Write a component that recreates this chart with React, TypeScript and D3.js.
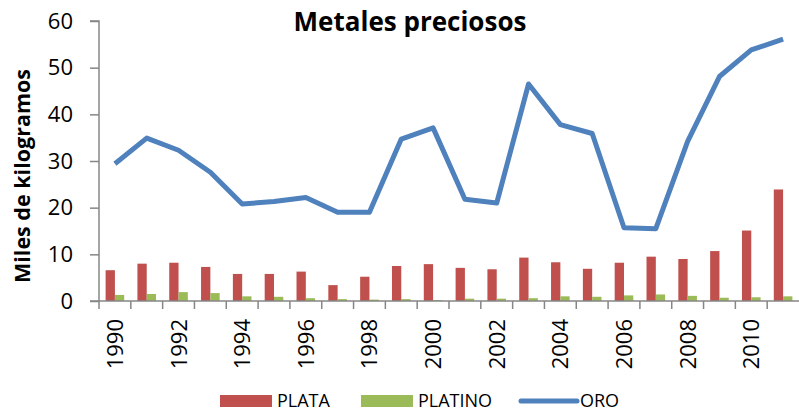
import React, { useEffect, useRef } from 'react';
import * as d3 from 'd3';

const years = [
  '1990', '1991', '1992', '1993', '1994', '1995', '1996', '1997', '1998', '1999', '2000',
  '2001', '2002', '2003', '2004', '2005', '2006', '2007', '2008', '2009', '2010', '2011',
];
const plata = [6.6, 8.0, 8.2, 7.3, 5.8, 5.8, 6.3, 3.4, 5.2, 7.5, 7.9, 7.1, 6.8, 9.3, 8.3, 6.9, 8.2, 9.5, 9.0, 10.7, 15.1, 23.9];
const platino = [1.3, 1.5, 1.9, 1.7, 1.0, 0.9, 0.6, 0.4, 0.3, 0.4, 0.2, 0.5, 0.5, 0.6, 1.0, 0.9, 1.2, 1.4, 1.1, 0.7, 0.8, 1.0];
const oro = [29.4, 34.9, 32.3, 27.6, 20.8, 21.3, 22.2, 19.0, 19.0, 34.7, 37.1, 21.8, 21.0, 46.5, 37.8, 35.9, 15.7, 15.5, 34.2, 48.1, 53.8, 56.1];
const yTicks = [0, 10, 20, 30, 40, 50, 60];
const seriesNames = ['PLATA', 'PLATINO', 'ORO'];

const RED = '#C0504D';
const GREEN = '#9BBB59';
const BLUE = '#4F81BD';
const AXIS = '#868686';
const FONT = '"Open Sans", sans-serif';

export default function App() {
  const ref = useRef<HTMLDivElement>(null);

  useEffect(() => {
    const width = 799;
    const height = 411;
    const margin = { top: 21, right: 0, bottom: 110, left: 99 };

    d3.select(ref.current).selectAll('*').remove();

    const svg = d3.select(ref.current)
      .append('svg')
      .attr('width', width)
      .attr('height', height)
      .style('position', 'absolute')
      .style('left', '0px')
      .style('top', '0px')
      .style('background', '#fff')
      .style('font-family', FONT);

    const x = d3.scaleBand<string>()
      .domain(years)
      .range([margin.left, width - margin.right]);

    const x1 = d3.scaleBand<string>()
      .domain(['PLATA', 'PLATINO'])
      .range([0, x.bandwidth()])
      .paddingOuter(0.71);

    const y = d3.scaleLinear()
      .domain([0, 60])
      .range([height - margin.bottom, margin.top]);

    // Bars
    const bars = svg.append('g');
    bars.selectAll('rect.plata')
      .data(plata)
      .enter()
      .append('rect')
      .attr('x', (_, i) => (x(years[i]) as number) + (x1('PLATA') as number))
      .attr('y', d => y(d))
      .attr('width', x1.bandwidth())
      .attr('height', d => y(0) - y(d))
      .attr('fill', RED);
    bars.selectAll('rect.platino')
      .data(platino)
      .enter()
      .append('rect')
      .attr('x', (_, i) => (x(years[i]) as number) + (x1('PLATINO') as number))
      .attr('y', d => y(d))
      .attr('width', x1.bandwidth())
      .attr('height', d => y(0) - y(d))
      .attr('fill', GREEN);

    // Axes
    const yAxis = svg.append('g')
      .attr('transform', `translate(${margin.left},0)`)
      .call(d3.axisLeft(y).tickValues(yTicks).tickSize(9).tickPadding(17));
    yAxis.selectAll('path, line').attr('stroke', AXIS).attr('stroke-width', 1.5);
    yAxis.select('.domain').attr('d', `M-9,${y(60)}H0V${y(0)}`);
    yAxis.selectAll('text')
      .attr('font-size', 22)
      .attr('font-family', FONT)
      .attr('fill', '#000');

    const xAxis = svg.append('g')
      .attr('transform', `translate(0,${y(0)})`);
    xAxis.append('line')
      .attr('x1', margin.left - 9).attr('x2', width)
      .attr('stroke', AXIS).attr('stroke-width', 1.5);
    xAxis.selectAll('line.tick')
      .data(years)
      .enter()
      .append('line')
      .attr('x1', d => x(d) as number)
      .attr('x2', d => x(d) as number)
      .attr('y1', 0).attr('y2', 8)
      .attr('stroke', AXIS).attr('stroke-width', 1.5);
    xAxis.selectAll('text')
      .data(years.filter((_, i) => i % 2 === 0))
      .enter()
      .append('text')
      .attr('transform', d => `translate(${(x(d) as number) + x.bandwidth() / 2 + 8},18) rotate(-90)`)
      .attr('text-anchor', 'end')
      .attr('font-size', 22)
      .attr('fill', '#000')
      .text(d => d);

    // Line
    const line = d3.line<number>()
      .x((_, i) => (x(years[i]) as number) + x.bandwidth() / 2)
      .y(d => y(d));
    svg.append('path')
      .attr('d', line(oro))
      .attr('fill', 'none')
      .attr('stroke', BLUE)
      .attr('stroke-width', 5)
      .attr('stroke-linejoin', 'round');

    // Title
    svg.append('text')
      .attr('x', 410)
      .attr('y', 31)
      .attr('text-anchor', 'middle')
      .attr('font-size', 26)
      .attr('font-weight', 700)
      .attr('fill', '#000')
      .text('Metales preciosos');

    // Y label
    svg.append('text')
      .attr('transform', `translate(30,176) rotate(-90)`)
      .attr('text-anchor', 'middle')
      .attr('font-size', 21.5)
      .attr('font-weight', 700)
      .attr('fill', '#000')
      .text('Miles de kilogramos');

    // Legend
    const legend = svg.append('g');
    const lx = [220, 361, 521];
    const colors = [RED, GREEN, BLUE];
    seriesNames.forEach((name, i) => {
      if (i < 2) {
        legend.append('rect')
          .attr('x', lx[i]).attr('y', 395)
          .attr('width', 52).attr('height', 12)
          .attr('fill', colors[i]);
      } else {
        legend.append('line')
          .attr('x1', lx[i]).attr('x2', lx[i] + 56)
          .attr('y1', 401).attr('y2', 401)
          .attr('stroke', colors[i]).attr('stroke-width', 5)
          .attr('stroke-linecap', 'round');
      }
      legend.append('text')
        .attr('x', i < 2 ? lx[i] + 57 : lx[i] + 59)
        .attr('y', 407)
        .attr('font-size', 18)
        .attr('fill', '#000')
        .text(name);
    });
  }, []);

  return <div ref={ref} />;
}
